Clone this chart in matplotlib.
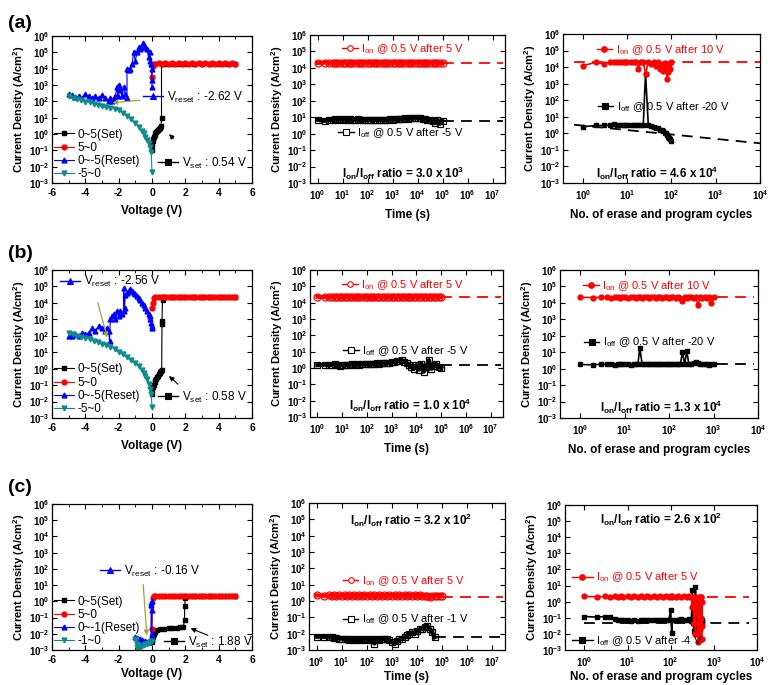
import matplotlib
matplotlib.use("Agg")
import matplotlib.pyplot as plt
from matplotlib.lines import Line2D
from matplotlib.legend import Legend
from matplotlib.ticker import FixedLocator, MultipleLocator, NullLocator, LogFormatterSciNotation

plt.rcParams.update({
    "font.family": ["Liberation Sans", "DejaVu Sans"],
    "font.weight": "bold",
    "axes.labelweight": "bold",
    "mathtext.default": "regular",
    "axes.unicode_minus": False,
    "axes.linewidth": 0.9,
    "xtick.direction": "in", "ytick.direction": "in",
    "xtick.top": True, "ytick.right": True,
    "xtick.major.size": 3.5, "ytick.major.size": 3.5,
    "xtick.minor.size": 2, "ytick.minor.size": 2,
    "xtick.major.pad": 3.5, "ytick.major.pad": 2,
})

# ---------------- data ----------------
y_ticks = [1e-3, 1e-2, 1e-1, 1e0, 1e1, 1e2, 1e3, 1e4, 1e5, 1e6]
t_ticks = [1e0, 1e1, 1e2, 1e3, 1e4, 1e5, 1e6, 1e7]
n_ticks = [1e0, 1e1, 1e2, 1e3, 1e4]

# shared 5~0 sweep and -5~0 sweep voltages
v_rev = [5.0, 4.8, 4.6, 4.4, 4.2, 4.0, 3.8, 3.6, 3.4, 3.2, 3.0, 2.8, 2.6, 2.4, 2.2, 2.0,
         1.8, 1.6, 1.4, 1.2, 1.0, 0.8, 0.6, 0.4, 0.2, 0.1, 0.05, 0.0]
v_neg5 = [-5.0, -4.75, -4.5, -4.25, -4.0, -3.75, -3.5, -3.25, -3.0, -2.75, -2.5, -2.25, -2.0,
          -1.75, -1.5, -1.25, -1.0, -0.8, -0.6, -0.5, -0.4, -0.3, -0.2, -0.1, -0.05, 0.0]

# (a) I-V
va_set = [0.0, 0.02, 0.05, 0.08, 0.12, 0.16, 0.2, 0.25, 0.3, 0.35, 0.4, 0.45, 0.5, 0.54, 0.57, 0.57,
          0.8, 1.2, 1.6, 2.0, 2.5, 3.0, 3.5, 4.0, 4.5, 5.0]
ja_set = [0.1, 0.2, 0.35, 0.5, 0.7, 0.9, 1.1, 1.3, 1.5, 1.7, 1.9, 2.2, 2.5, 3.0, 10.0, 2.0e4,
          2.0e4, 2.0e4, 2.0e4, 2.0e4, 2.0e4, 2.0e4, 2.0e4, 2.0e4, 2.0e4, 2.0e4]
ja_rev = [2.0e4, 2.1e4, 2.0e4, 2.1e4, 2.0e4, 2.1e4, 2.0e4, 2.1e4, 2.0e4, 2.1e4, 2.0e4, 2.1e4, 2.0e4, 2.1e4,
          2.0e4, 2.1e4, 2.0e4, 2.1e4, 2.0e4, 2.1e4, 2.0e4, 2.1e4, 2.0e4, 2.1e4, 2.0e4, 2.0e4, 1.5e4, 3.0e3]
va_rst = [0.0, -0.01, -0.03, -0.05, -0.1, -0.15, -0.2, -0.3, -0.4, -0.5, -0.55, -0.6, -0.7, -0.8, -0.9,
          -1.0, -1.1, -1.2, -1.3, -1.4, -1.5, -1.5, -1.6, -1.7, -1.8, -1.9, -2.0, -2.05, -2.1, -2.2,
          -2.3, -2.4, -2.5, -2.6, -2.8, -3.0, -3.2, -3.4, -3.6, -3.8, -4.0, -4.2, -4.4, -4.6, -4.8, -5.0]
ja_rst = [8e2, 2e3, 1e4, 2e4, 3e4, 1e5, 5e4, 1.5e5, 2e5, 3e5, 3.5e5, 2e5, 1.5e5, 2e5, 1e5,
          3e4, 1e5, 2e4, 1e4, 8e3, 1e4, 1.5e2, 3e2, 8e2, 2e2, 5e2, 1e3, 2e2, 8e2, 2e2,
          1.2e2, 1e2, 1.5e2, 1e2, 1.5e2, 2.5e2, 1.5e2, 2e2, 1.5e2, 2e2, 3e2, 1.5e2, 2e2, 1.8e2, 2.5e2, 2.8e2]
ja_neg = [200, 170, 140, 120, 95, 85, 70, 60, 50, 45, 40, 35, 30, 20, 13, 8, 4.7, 2.8, 1.6, 1.1,
          0.7, 0.45, 0.28, 0.15, 0.08, 5e-3]

# (b) I-V
vb_set = [0.0, 0.02, 0.05, 0.1, 0.15, 0.2, 0.25, 0.3, 0.35, 0.4, 0.45, 0.5, 0.55, 0.58, 0.6, 0.6,
          0.63, 0.65, 0.8, 1.2, 1.6, 2.0, 2.5, 3.0, 3.5, 4.0, 4.5, 5.0]
jb_set = [0.03, 0.05, 0.08, 0.1, 0.15, 0.2, 0.25, 0.3, 0.38, 0.45, 0.55, 0.65, 0.75, 0.85, 5e2, 8e2,
          1.5e4, 2.2e4, 2.2e4, 2.2e4, 2.2e4, 2.2e4, 2.2e4, 2.2e4, 2.2e4, 2.2e4, 2.2e4, 2.2e4]
jb_rev = [2.3e4, 2.2e4, 2.3e4, 2.2e4, 2.3e4, 2.2e4, 2.3e4, 2.2e4, 2.3e4, 2.2e4, 2.3e4, 2.2e4, 2.3e4, 2.2e4,
          2.3e4, 2.2e4, 2.3e4, 2.2e4, 2.3e4, 2.2e4, 2.3e4, 2.2e4, 2.3e4, 2.2e4, 2.2e4, 2.0e4, 1.0e4, 5.0e3]
vb_rst = [0.0, -0.02, -0.05, -0.1, -0.15, -0.2, -0.3, -0.4, -0.5, -0.6, -0.7, -0.8, -0.9, -1.0, -1.1,
          -1.2, -1.3, -1.4, -1.5, -1.6, -1.65, -1.7, -1.7, -1.8, -1.9, -2.0, -2.1, -2.2, -2.3, -2.4,
          -2.5, -2.55, -2.6, -2.7, -2.8, -3.0, -3.2, -3.4, -3.6, -3.8, -4.0, -4.2, -4.4, -4.6, -4.8, -5.0]
jb_rst = [3e2, 4e2, 6e2, 1e3, 1.5e3, 2e3, 3e3, 5e3, 7e3, 1e4, 1.5e4, 2e4, 2.5e4, 3.5e4, 4e4,
          5e4, 7e4, 5e4, 4e4, 3e4, 5e3, 8e4, 3e3, 2e3, 3e3, 1.5e3, 3e3, 1e3, 2e3, 1.5e3,
          1e3, 5e1, 2e2, 3e2, 2e2, 3e2, 4e2, 2e2, 3e2, 1.5e2, 1.2e2, 1.5e2, 1e2, 1.2e2, 1e2, 1e2]
jb_neg = [150, 125, 100, 85, 70, 60, 50, 40, 30, 26, 22, 16, 10, 7.5, 5, 3.3, 2.2, 1.4, 0.8, 0.55,
          0.35, 0.22, 0.12, 0.06, 0.03, 5e-3]

# (c) I-V
vc_set = [0.0, 0.02, 0.05, 0.1, 0.15, 0.2, 0.3, 0.5, 0.7, 1.0, 1.2, 1.5, 1.7, 1.88, 1.95, 1.96,
          2.0, 2.05, 2.5, 3.0, 3.5, 4.0, 4.5, 5.0]
jc_set = [3e-3, 4e-3, 6e-3, 1e-2, 1.3e-2, 1.5e-2, 1.7e-2, 1.9e-2, 2.0e-2, 2.2e-2, 2.3e-2, 2.4e-2,
          2.5e-2, 2.6e-2, 7e-2, 0.5, 1.5, 2.2, 2.2, 2.2, 2.2, 2.2, 2.2, 2.2]
jc_rev = [2.2, 2.1, 2.2, 2.1, 2.2, 2.1, 2.2, 2.1, 2.2, 2.1, 2.2, 2.1, 2.2, 2.1,
          2.2, 2.1, 2.2, 2.1, 2.2, 2.1, 2.2, 2.1, 2.2, 2.1, 2.2, 2.0, 1.5, 2.0e-2]
vc_rst = [0.0, -0.02, -0.03, -0.04, -0.05, -0.06, -0.1, -0.2, -0.3, -0.4, -0.5, -0.6, -0.7, -0.8, -0.9, -1.0]
jc_rst = [1e-2, 0.3, 1.0, 0.6, 0.8, 5e-3, 4e-3, 3e-3, 3e-3, 3.5e-3, 3e-3, 4e-3, 4.5e-3, 5e-3, 5.5e-3, 6e-3]
vc_neg = [-1.0, -0.97, -0.93, -0.9, -0.85, -0.8, -0.7, -0.6, -0.5, -0.4, -0.3, -0.2, -0.1, 0.0]
jc_neg = [5e-3, 4e-3, 2.5e-3, 1.5e-3, 1.1e-3, 1.2e-3, 1.5e-3, 1.8e-3, 2e-3, 2.2e-3, 2.5e-3, 2.8e-3, 3e-3, 3.5e-3]

# retention (time in s)
t_ret = [1, 2, 3, 4, 5, 6, 8, 10, 13, 16, 20, 25, 32, 40, 50, 63, 80, 100, 130, 160, 200, 250, 320,
         400, 500, 630, 800, 1e3, 1.3e3, 1.6e3, 2e3, 2.5e3, 3.2e3, 4e3, 5e3, 6.3e3, 8e3, 1e4, 1.3e4,
         1.6e4, 2e4, 2.5e4, 3.2e4, 4e4, 5e4, 6.3e4, 8e4, 1e5]
ion_ret_a = [2.0e4, 2.1e4, 2.0e4, 2.1e4, 2.0e4, 2.1e4, 2.0e4, 2.1e4, 2.0e4, 2.1e4,
             2.0e4, 2.1e4, 2.0e4, 2.1e4, 2.0e4, 2.1e4, 2.0e4, 2.1e4, 2.0e4, 2.1e4,
             2.0e4, 2.1e4, 2.0e4, 2.1e4, 2.0e4, 2.1e4, 2.0e4, 2.1e4, 2.0e4, 2.1e4,
             2.0e4, 2.1e4, 2.0e4, 2.1e4, 2.0e4, 2.1e4, 2.0e4, 2.1e4, 2.0e4, 2.1e4,
             2.0e4, 2.1e4, 2.0e4, 2.1e4, 2.0e4, 2.1e4, 2.0e4, 2.0e4]
ioff_ret_a = [7.0, 6.0, 7.0, 6.5, 7.5, 7.0, 7.5, 7.0, 7.5, 7.0,
              7.5, 7.0, 7.0, 7.5, 7.0, 7.0, 6.5, 7.0, 7.0, 6.5,
              7.0, 6.5, 7.0, 7.0, 6.5, 7.0, 7.5, 7.0, 7.5, 8.0,
              7.5, 8.0, 8.5, 8.0, 8.5, 9.0, 9.5, 9.0, 8.5, 8.0,
              7.5, 7.0, 6.5, 5.5, 4.5, 7.0, 4.0, 6.0]
ion_ret_b = [2.3e4, 2.2e4, 2.3e4, 2.2e4, 2.3e4, 2.2e4, 2.3e4, 2.2e4, 2.3e4, 2.2e4,
             2.3e4, 2.2e4, 2.3e4, 2.2e4, 2.3e4, 2.2e4, 2.3e4, 2.2e4, 2.3e4, 2.2e4,
             2.3e4, 2.2e4, 2.3e4, 2.2e4, 2.3e4, 2.2e4, 2.3e4, 2.2e4, 2.3e4, 2.2e4,
             2.3e4, 2.2e4, 2.3e4, 2.2e4, 2.3e4, 2.2e4, 2.3e4, 2.2e4, 2.3e4, 2.2e4,
             2.3e4, 2.2e4, 2.3e4, 2.2e4, 2.3e4, 2.2e4, 2.3e4, 2.2e4]
ioff_ret_b = [1.5, 1.6, 1.5, 1.6, 1.7, 1.5, 1.4, 1.5, 1.6, 1.5,
              1.6, 1.7, 1.6, 1.7, 1.6, 1.7, 1.8, 1.7, 1.8, 1.7,
              1.8, 1.9, 1.8, 2.0, 1.9, 2.1, 2.0, 2.2, 2.4, 2.6,
              2.8, 3.0, 2.5, 2.0, 1.6, 1.2, 0.9, 1.5, 0.8, 1.8,
              0.6, 1.2, 3.0, 0.9, 1.4, 1.8, 1.2, 1.0]
ion_ret_c = [2.2, 2.1, 2.2, 2.1, 2.2, 2.1, 2.2, 2.1, 2.2, 2.1,
             2.2, 2.1, 2.2, 2.1, 2.2, 2.1, 2.2, 2.1, 2.2, 2.1,
             2.2, 2.1, 2.2, 2.1, 2.2, 2.1, 2.2, 2.1, 2.2, 2.1,
             2.2, 2.1, 2.2, 2.1, 2.2, 2.1, 2.2, 2.1, 2.2, 2.1,
             2.1, 2.0, 1.7, 2.1, 2.0, 2.1, 2.0, 2.1]
ioff_ret_c = [6.5e-3, 6.5e-3, 6.0e-3, 6.0e-3, 5.5e-3, 5.5e-3, 5.0e-3, 5.0e-3, 4.5e-3, 4.5e-3,
              4.0e-3, 4.5e-3, 4.0e-3, 4.5e-3, 4.0e-3, 4.5e-3, 4.0e-3, 4.5e-3, 4.0e-3, 4.5e-3,
              2.5e-3, 4.5e-3, 4.0e-3, 5.0e-3, 4.5e-3, 5.0e-3, 4.0e-3, 3.0e-3, 2.5e-3, 3.5e-3,
              4.5e-3, 5.0e-3, 6.0e-3, 8.0e-3, 1.0e-2, 1.2e-2, 1.0e-2, 1.5e-2, 1.8e-2, 2.0e-2,
              2.5e-2, 3.0e-2, 2.0e-2, 1.2e-2, 6.0e-3]
t_fit = [1e5, 2.7e7]
t_fit_off_c = [5e4, 2.7e7]
ret_fit_on = [2.0e4, 2.3e4, 1.8]
ret_fit_off = [6.0, 1.5, 6.0e-3]

# endurance (cycles)
n_a = [1, 2, 3, 4, 5, 6, 7, 8, 9, 10, 12, 14, 16, 18, 20, 23, 26, 30, 35, 40, 45, 50, 55, 60, 65,
       70, 75, 80, 85, 90, 95, 100]
ion_end_a = [1.2e4, 2.0e4, 1.5e4, 2.0e4, 2.1e4, 2.0e4, 2.1e4, 2.0e4, 2.1e4, 2.0e4,
             2.1e4, 2.0e4, 2.1e4, 8.0e3, 2.0e4, 2.1e4, 4.0e3, 2.0e4, 1.5e4, 2.0e4,
             1.2e4, 2.0e4, 8.0e3, 1.5e4, 6.0e3, 1.8e4, 1.0e4, 1.8e3, 5.0e3, 1.5e4,
             8.0e3, 2.0e4]
ioff_end_a = [2.5, 3.0, 3.0, 3.2, 3.5, 3.3, 3.2, 3.2, 3.3, 3.2,
              3.3, 3.2, 3.2, 3.3, 3.2, 3.0, 4.0e3, 3.0, 2.8, 2.5,
              2.2, 2.0, 1.7, 1.5, 1.3, 1.1, 1.0, 0.8, 0.6, 0.5,
              0.45, 0.35]
n_b = [1, 2, 3, 4, 5, 6, 7, 8, 9, 10, 12, 14, 16, 18, 20, 22, 25, 28, 32, 36, 40, 45, 50, 56, 63,
       70, 80, 90, 100, 112, 125, 140, 160, 180, 200, 225, 250, 280, 320, 360, 400, 450, 500, 560,
       630, 710, 800, 900, 1000]
ion_end_b = [2.2e4, 2.1e4, 2.2e4, 2.2e4, 2.1e4, 2.2e4, 2.2e4, 2.1e4, 2.2e4, 2.2e4,
             2.1e4, 2.2e4, 2.2e4, 2.1e4, 2.2e4, 2.2e4, 2.1e4, 2.2e4, 2.2e4, 2.1e4,
             2.2e4, 2.2e4, 2.1e4, 2.2e4, 2.2e4, 2.1e4, 2.2e4, 2.2e4, 2.1e4, 2.2e4,
             2.2e4, 2.1e4, 2.2e4, 2.1e4, 1.3e4, 2.2e4, 2.1e4, 2.2e4, 2.2e4, 2.1e4,
             2.2e4, 7.0e3, 2.2e4, 2.1e4, 2.2e4, 2.1e4, 2.2e4, 1.0e4, 2.2e4]
ioff_end_b = [1.8, 1.7, 1.9, 1.8, 1.8, 1.7, 1.8, 1.8, 1.9, 1.8,
              1.8, 1.7, 1.8, 1.8, 1.9, 18.0, 1.8, 1.8, 1.9, 1.8,
              1.8, 1.9, 1.8, 1.8, 1.9, 1.8, 1.8, 1.9, 1.8, 1.9,
              1.8, 1.9, 1.8, 1.9, 10.0, 1.8, 12.0, 1.9, 2.0, 2.1,
              2.5, 2.3, 2.0, 1.9, 1.8, 1.9, 1.7, 1.8, 1.8]
n_c = [1, 2, 3, 4, 5, 6, 7, 8, 10, 12, 14, 17, 20, 24, 28, 33, 40, 47, 55, 65, 77, 90, 100, 105,
       110, 130, 150, 175, 200, 235, 270, 290, 300, 315, 330, 345, 360, 375, 390, 405, 420, 435,
       450, 465, 480, 495, 510, 520, 530, 540, 500, 470, 440]
ion_end_c = [2.1, 2.0, 2.1, 2.0, 2.1, 2.0, 2.1, 2.0, 2.1, 2.0,
             2.1, 2.0, 2.1, 2.0, 2.1, 2.0, 2.1, 2.0, 2.1, 2.0,
             2.1, 2.0, 2.1, 2.0, 2.1, 2.0, 2.1, 2.0, 2.1, 2.0,
             2.1, 2.0, 2.0, 0.5, 2.0, 0.05, 1.5, 0.01, 2.0, 0.2,
             1.0, 0.003, 2.0, 0.02, 1.5, 0.1, 2.0, 0.005, 1.0, 0.03,
             2.0, 0.004, 0.5]
ioff_end_c = [0.12, 0.11, 0.12, 0.12, 0.08, 0.075, 0.07, 0.075, 0.07, 0.065,
              0.07, 0.065, 0.07, 0.07, 0.075, 0.07, 0.07, 0.075, 0.07, 0.075,
              0.07, 0.075, 0.3, 0.012, 0.07, 0.075, 0.07, 0.08, 0.075, 0.07,
              0.08, 0.07, 0.06, 5.0, 0.05, 0.015, 0.08, 8.0, 0.06, 0.02,
              0.07, 0.05, 0.8, 0.06, 0.1, 0.04, 0.08, 0.05, 0.06, 0.07,
              0.05, 0.06, 0.05]
fit_on_x = [[0.63, 1e4], [1.2e3, 8e3], [700, 6.6e3]]
fit_on_y = [[2.0e4, 2.0e4], [2.2e4, 2.2e4], [2.0, 2.0]]
fit_off_x = [[0.63, 1e4], [1.2e3, 8e3], [1.0, 6.6e3]]
fit_off_y = [[3.3, 0.25], [1.8, 1.8], [0.05, 0.05]]

iv_sets = [(va_set, ja_set, ja_rev, va_rst, ja_rst, v_neg5, ja_neg),
           (vb_set, jb_set, jb_rev, vb_rst, jb_rst, v_neg5, jb_neg),
           (vc_set, jc_set, jc_rev, vc_rst, jc_rst, vc_neg, jc_neg)]
iv_labels = [["0~5(Set)", "5~0", "0~-5(Reset)", "-5~0"],
             ["0~5(Set)", "5~0", "0~-5(Reset)", "-5~0"],
             ["0~5(Set)", "5~0", "0~-1(Reset)", "-1~0"]]
vreset_txt = ["V$_{reset}$ : -2.62 V", "V$_{reset}$ : -2.56 V", "V$_{reset}$ : -0.16 V"]
vset_txt = ["V$_{set}$ : 0.54 V", "V$_{set}$ : 0.58 V", "V$_{set}$ : 1.88 V"]
ret_sets = [(ion_ret_a, ioff_ret_a, t_ret), (ion_ret_b, ioff_ret_b, t_ret), (ion_ret_c, ioff_ret_c, t_ret[:45])]
ret_on_txt = ["I$_{on}$ @ 0.5 V after 5 V"] * 3
ret_off_txt = ["I$_{off}$ @ 0.5 V after -5 V", "I$_{off}$ @ 0.5 V after -5 V", "I$_{off}$ @ 0.5 V after -1 V"]
ret_ratio = ["I$_{on}$/I$_{off}$ ratio = 3.0 x 10$^{3}$", "I$_{on}$/I$_{off}$ ratio = 1.0 x 10$^{4}$",
             "I$_{on}$/I$_{off}$ ratio = 3.2 x 10$^{2}$"]
end_sets = [(n_a, ion_end_a, ioff_end_a), (n_b, ion_end_b, ioff_end_b), (n_c, ion_end_c, ioff_end_c)]
end_on_txt = ["I$_{on}$ @ 0.5 V after 10 V", "I$_{on}$ @ 0.5 V after 10 V", "I$_{on}$ @ 0.5 V after 5 V"]
end_off_txt = ["I$_{off}$ @ 0.5 V after -20 V", "I$_{off}$ @ 0.5 V after -20 V", "I$_{off}$ @ 0.5 V after -4 V"]
end_ratio = ["I$_{on}$/I$_{off}$ ratio = 4.6 x 10$^{4}$", "I$_{on}$/I$_{off}$ ratio = 1.3 x 10$^{4}$",
             "I$_{on}$/I$_{off}$ ratio = 2.6 x 10$^{2}$"]
panel_letters = ["(a)", "(b)", "(c)"]

# ---------------- layout / style ----------------
W, H = 770, 685
axes_px = [[(52, 36, 252, 183), (310, 35, 505, 183), (563, 34, 760, 183)],
           [(52, 270, 252, 418), (310, 270, 503, 417), (560, 270, 758, 418)],
           [(52, 504, 252, 650), (309, 503, 505, 650), (565, 505, 757, 650)]]
xlabel_pad = [5, 5, 2]
letter_px = [(20, 23), (20, 253), (20, 488)]
RED, BLUE, TEAL, OLIVE = "#ff0000", "#0000ff", "#0e8c8c", "#a3a33c"
# annotation anchor positions (axes fractions)
vreset_pos = [(0.455, 0.585), (0.04, 0.92), (0.24, 0.54)]
vset_pos = [(0.53, 0.136), (0.53, 0.142), (0.56, 0.054)]
olive_arrow = [((-0.55, 120), (-2.55, 80)), ((-3.3, 1.5e4), (-2.64, 55)), ((-0.54, 16), (-0.3, 5.4e-3))]
black_arrow = [((1.4, 0.4), (0.9, 1.3)), ((1.68, 0.087), (0.9, 0.47)), ((3.5, 7e-3), (2.16, 2.5e-2))]
ret_on_pos = [(0.164, 0.905), (0.166, 0.898), (0.173, 0.47)]
ret_off_pos = [(0.144, 0.338), (0.171, 0.449), (0.173, 0.208)]
ret_ratio_pos = [(0.477, 0.068), (0.52, 0.08), (0.52, 0.88)]
end_on_pos = [(0.171, 0.893), (0.116, 0.89), (0.035, 0.5)]
end_off_pos = [(0.176, 0.51), (0.12, 0.51), (0.035, 0.06)]
end_ratio_pos = [(0.477, 0.068), (0.51, 0.075), (0.5, 0.9)]

fig = plt.figure(figsize=(W / 100, H / 100), dpi=100)


def make_ax(px):
    x0, y0, x1, y1 = px
    return fig.add_axes([x0 / W, 1 - y1 / H, (x1 - x0) / W, (y1 - y0) / H])


def style_y(ax):
    ax.set_yscale("log")
    ax.set_ylim(1e-3, 1e6)
    ax.yaxis.set_major_locator(FixedLocator(y_ticks))
    ax.yaxis.set_major_formatter(LogFormatterSciNotation())
    ax.yaxis.set_minor_locator(NullLocator())
    ax.tick_params(axis="y", labelsize=7)
    ax.tick_params(axis="x", labelsize=7.5)
    ax.set_ylabel("Current Density (A/cm$^{2}$)", fontsize=8, labelpad=1)


def bold_ticks(ax):
    for t in ax.get_xticklabels() + ax.get_yticklabels():
        t.set_fontweight("bold")


def tag(ax, pos, text, color, marker, filled, tcolor="black", fs=8.5, hl=1.7):
    h = Line2D([], [], color=color, marker=marker, ms=4, lw=1,
               mfc=color if filled else "white", mec=color, mew=0.8)
    lg = Legend(ax, [h], [text], loc="center left", bbox_to_anchor=pos, frameon=False,
                handlelength=hl, handletextpad=0.3, borderpad=0, borderaxespad=0,
                prop={"size": fs, "weight": "normal"})
    for t in lg.get_texts():
        t.set_color(tcolor)
    ax.add_artist(lg)


for r in range(3):
    # ---- I-V panel ----
    ax = make_ax(axes_px[r][0])
    vs, js, jr, vr, jrs, vn, jn = iv_sets[r]
    kw = dict(ms=3.5, lw=0.8)
    l1, = ax.plot(vs, js, color="black", marker="s", **kw)
    l2, = ax.plot(v_rev, jr, color=RED, marker="o", **kw)
    l3, = ax.plot(vr, jrs, color=BLUE, marker="^", **kw)
    l4, = ax.plot(vn, jn, color=TEAL, marker="v", **kw)
    style_y(ax)
    ax.set_xlim(-6, 6)
    ax.xaxis.set_major_locator(MultipleLocator(2))
    ax.xaxis.set_minor_locator(MultipleLocator(1))
    ax.set_xlabel("Voltage (V)", fontsize=8.5, labelpad=xlabel_pad[r])
    bold_ticks(ax)
    tag(ax, vreset_pos[r], vreset_txt[r], BLUE, "^", True)
    tag(ax, vset_pos[r], vset_txt[r], "black", "s", True)
    (ox, oy), (tx, ty) = olive_arrow[r]
    ax.annotate("", xy=(tx, ty), xytext=(ox, oy),
                arrowprops=dict(arrowstyle="-|>", color=OLIVE, lw=0.9, mutation_scale=7))
    (ox, oy), (tx, ty) = black_arrow[r]
    ax.annotate("", xy=(tx, ty), xytext=(ox, oy),
                arrowprops=dict(arrowstyle="-|>", color="black", lw=0.8, mutation_scale=7))
    ax.legend([l1, l2, l3, l4], iv_labels[r], loc="lower left", bbox_to_anchor=(0.01, 0.02),
              frameon=False, handlelength=1.7, handletextpad=0.3, labelspacing=0.1,
              borderpad=0, borderaxespad=0, prop={"size": 8.5, "weight": "normal"})

    # ---- retention panel ----
    ax = make_ax(axes_px[r][1])
    ion, ioff, tt = ret_sets[r]
    ax.plot(t_fit, [ret_fit_on[r]] * 2, color=RED, lw=1.3, ls=(0, (6, 4)))
    ax.plot(t_fit_off_c if r == 2 else t_fit, [ret_fit_off[r]] * 2, color="black", lw=1.3, ls=(0, (6, 4)))
    ax.plot(tt, ioff, color="black", marker="s", ms=5, mfc="none", mew=0.9, lw=3)
    ax.plot(t_ret, ion, color=RED, marker="o", ms=5, mfc="none", mew=0.9, lw=3)
    style_y(ax)
    ax.set_xscale("log")
    ax.set_xlim(10 ** -0.3, 10 ** 7.5)
    ax.xaxis.set_major_locator(FixedLocator(t_ticks))
    ax.xaxis.set_major_formatter(LogFormatterSciNotation())
    ax.xaxis.set_minor_locator(NullLocator())
    ax.tick_params(axis="x", labelsize=7)
    ax.set_xlabel("Time (s)", fontsize=8.5, labelpad=xlabel_pad[r])
    bold_ticks(ax)
    tag(ax, ret_on_pos[r], ret_on_txt[r], RED, "o", False, tcolor=RED, fs=8, hl=1.4)
    tag(ax, ret_off_pos[r], ret_off_txt[r], "black", "s", False, fs=8, hl=1.4)
    ax.text(*ret_ratio_pos[r], ret_ratio[r], transform=ax.transAxes, ha="center", va="center",
            fontsize=8.5, fontweight="bold")

    # ---- endurance panel ----
    ax = make_ax(axes_px[r][2])
    nn, ion, ioff = end_sets[r]
    ax.plot(fit_on_x[r], fit_on_y[r], color=RED, lw=1.3, ls=(0, (6, 4)))
    ax.plot(fit_off_x[r], fit_off_y[r], color="black", lw=1.3, ls=(0, (6, 4)))
    ax.plot(nn, ioff, color="black", marker="s", ms=3.5, lw=1.2)
    ax.plot(nn, ion, color=RED, marker="o", ms=3.5, lw=1.2)
    style_y(ax)
    ax.set_xscale("log")
    ax.set_xlim(10 ** -0.45, 10 ** 4.0)
    ax.xaxis.set_major_locator(FixedLocator(n_ticks))
    ax.xaxis.set_major_formatter(LogFormatterSciNotation())
    ax.xaxis.set_minor_locator(NullLocator())
    ax.tick_params(axis="x", labelsize=7)
    ax.set_xlabel("No. of erase and program cycles", fontsize=8.5, labelpad=xlabel_pad[r])
    bold_ticks(ax)
    tag(ax, end_on_pos[r], end_on_txt[r], RED, "o", True, tcolor=RED, fs=8, hl=1.4 if r < 2 else 1.9)
    tag(ax, end_off_pos[r], end_off_txt[r], "black", "s", True, fs=8, hl=1.4 if r < 2 else 1.9)
    ax.text(*end_ratio_pos[r], end_ratio[r], transform=ax.transAxes, ha="center", va="center",
            fontsize=8.5, fontweight="bold")

    lx, ly = letter_px[r]
    fig.text(lx / W, 1 - ly / H, panel_letters[r], ha="center", va="center", fontsize=14, fontweight="bold")

fig.savefig("out.png", dpi=100)
